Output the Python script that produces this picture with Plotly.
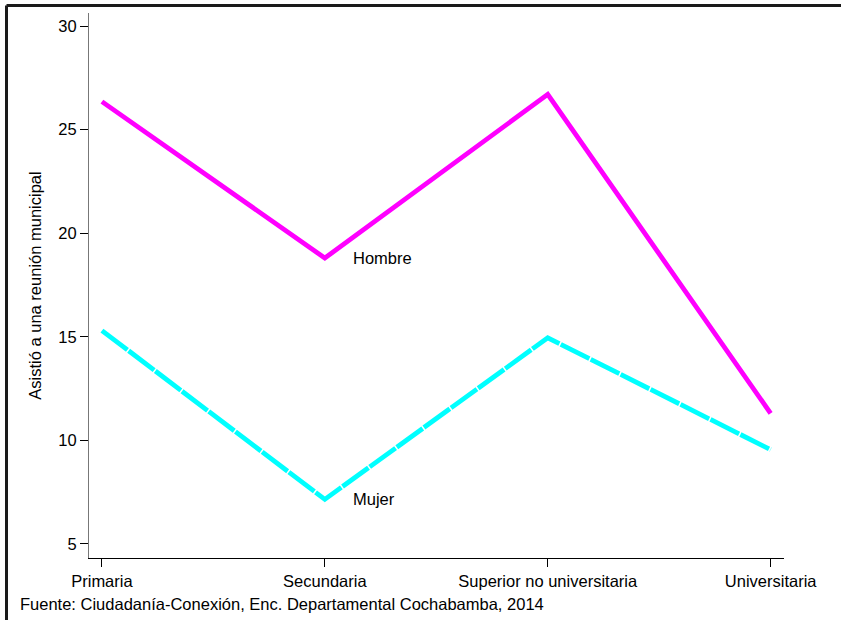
import plotly.graph_objects as go

categories = ["Primaria", "Secundaria", "Superior no universitaria", "Universitaria"]
hombre = [26.35, 18.8, 26.7, 11.3]
mujer = [15.3, 7.15, 14.95, 9.55]
y_ticks = [5, 10, 15, 20, 25, 30]

xpos = list(range(len(categories)))

fig = go.Figure()
fig.add_trace(go.Scatter(x=xpos, y=hombre, mode="lines", name="Hombre",
                         line=dict(color="#FF00FF", width=4.8)))
fig.add_trace(go.Scatter(x=xpos, y=mujer, mode="lines", name="Mujer",
                         line=dict(color="#00FFFF", width=4.8, dash="32px,1.5px")))

font = "Liberation Sans, Arial, sans-serif"
fs = 16.5

fig.add_annotation(x=1, y=hombre[1], text="Hombre", showarrow=False, xanchor="left",
                   xshift=26, yshift=0, font=dict(family=font, size=fs, color="#000"))
fig.add_annotation(x=1, y=mujer[1], text="Mujer", showarrow=False, xanchor="left",
                   xshift=26, yshift=0, font=dict(family=font, size=fs, color="#000"))
fig.add_annotation(x=-0.102, y=-0.0844, xref="paper", yref="paper",
                   text="Fuente: Ciudadanía-Conexión, Enc. Departamental Cochabamba, 2014",
                   showarrow=False, xanchor="left", yanchor="middle",
                   font=dict(family=font, size=fs, color="#000"))

# outer frame (top and left edges)
fig.add_shape(type="line", xref="paper", yref="paper", x0=-0.1187, x1=1.1, y0=1.0138, y1=1.0138,
              line=dict(color="#1a1a1a", width=3))
fig.add_shape(type="line", xref="paper", yref="paper", x0=-0.1187, x1=-0.1187, y0=1.0138, y1=-0.15,
              line=dict(color="#1a1a1a", width=3))

fig.update_layout(
    width=841, height=620,
    margin=dict(l=89, r=57, t=13, b=62),
    paper_bgcolor="white", plot_bgcolor="white",
    showlegend=False,
    font=dict(family=font, size=fs, color="#000"),
)
fig.update_xaxes(range=[-0.058, 3.06], tickvals=xpos, ticktext=categories,
                 showgrid=False, zeroline=False, showline=True, linecolor="#000", linewidth=1,
                 ticks="outside", ticklen=8, tickcolor="#000", tickwidth=1,
                 tickfont=dict(family=font, size=fs, color="#000"))
fig.update_yaxes(range=[4.32, 30.63], tickvals=y_ticks,
                 showgrid=False, zeroline=False, showline=True, linecolor="#777", linewidth=1,
                 ticks="outside", ticklen=8, tickcolor="#000", tickwidth=1,
                 tickfont=dict(family=font, size=fs, color="#000"),
                 title=dict(text="Asistió a una reunión municipal", standoff=12,
                            font=dict(family=font, size=fs, color="#000")))

fig.write_html("out.html", config={"displayModeBar": False},
               post_script="document.body.style.margin='0';document.body.style.padding='0';")
